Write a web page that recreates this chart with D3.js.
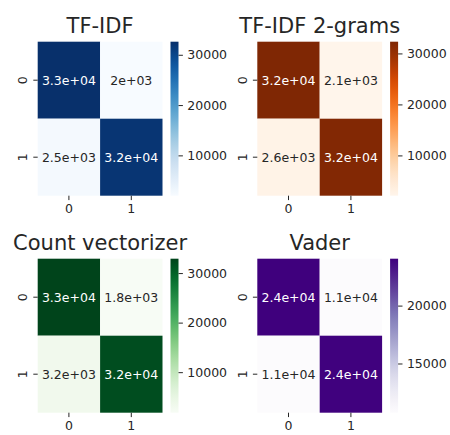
<!DOCTYPE html>
<html>
<head>
<meta charset="utf-8">
<script src="https://cdn.jsdelivr.net/npm/d3@7"></script>
<style>
  body { margin: 0; background: #fff; }
  text { font-family: "DejaVu Sans", sans-serif; }
</style>
</head>
<body>
<div id="chart-area"></div>
<script>
const panelTitles = ["TF-IDF", "TF-IDF 2-grams", "Count vectorizer", "Vader"];
const classLabels = ["0", "1"];
const tfidfValues = [[32600, 1980], [2460, 32000]];
const tfidf2Values = [[32300, 2100], [2600, 32000]];
const countValues = [[32900, 1820], [3200, 32000]];
const vaderValues = [[24050, 10800], [10750, 24000]];
const colorbarTicks = [
  [10000, 20000, 30000],
  [10000, 20000, 30000],
  [10000, 20000, 30000],
  [15000, 20000]
];

(function () {
  const width = 450, height = 435;
  const svg = d3.select("#chart-area").append("svg")
    .attr("width", width).attr("height", height);

  const panels = [
    { title: panelTitles[0], values: tfidfValues, cmap: d3.interpolateBlues, x: 37.7, y: 41.7 },
    { title: panelTitles[1], values: tfidf2Values, cmap: d3.interpolateOranges, x: 257.3, y: 41.7 },
    { title: panelTitles[2], values: countValues, cmap: d3.interpolateGreens, x: 37.7, y: 258.7 },
    { title: panelTitles[3], values: vaderValues, cmap: d3.interpolatePurples, x: 257.3, y: 258.7 }
  ];
  const hw = 124.8, hh = 154;      // heatmap size
  const cbGap = 8, cbW = 8;         // colorbar offset / width
  const textColor = "#262626";

  // python-like ".2g" formatting for big numbers
  const fmt = (v) => d3.format(".1~e")(v).replace(/e([+-])(\d)$/, "e$10$2");

  panels.forEach((p, i) => {
    const g = svg.append("g").attr("transform", `translate(${p.x},${p.y})`);
    const flat = p.values.flat();
    const vmin = d3.min(flat), vmax = d3.max(flat);
    const color = d3.scaleSequential(p.cmap).domain([vmin, vmax]);

    const xScale = d3.scaleBand().domain(classLabels).range([0, hw]);
    const yScale = d3.scaleBand().domain(classLabels).range([0, hh]);

    const cells = [];
    p.values.forEach((row, r) => row.forEach((v, c) => cells.push({ r, c, v })));

    g.selectAll("rect.cell").data(cells).enter().append("rect")
      .attr("class", "cell")
      .attr("x", d => xScale(classLabels[d.c]))
      .attr("y", d => yScale(classLabels[d.r]))
      .attr("width", xScale.bandwidth())
      .attr("height", yScale.bandwidth())
      .attr("fill", d => color(d.v));

    g.selectAll("text.annot").data(cells).enter().append("text")
      .attr("class", "annot")
      .attr("x", d => xScale(classLabels[d.c]) + xScale.bandwidth() / 2)
      .attr("y", d => yScale(classLabels[d.r]) + yScale.bandwidth() / 2)
      .attr("text-anchor", "middle")
      .attr("dy", "0.36em")
      .attr("font-size", 12.5)
      .attr("fill", d => (d.v - vmin) / (vmax - vmin) > 0.5 ? "#ffffff" : textColor)
      .text(d => fmt(d.v));

    // x axis
    const xAxis = g.append("g").attr("transform", `translate(0,${hh})`)
      .call(d3.axisBottom(xScale).tickSize(4.4).tickPadding(4.4));
    xAxis.select(".domain").remove();
    xAxis.selectAll("line").attr("stroke", textColor).attr("stroke-width", 1);
    xAxis.selectAll("text").attr("font-size", 12.5).attr("fill", textColor)
      .attr("font-family", "DejaVu Sans");

    // y axis with rotated labels
    const yAxis = g.append("g").call(d3.axisLeft(yScale).tickSize(4.4).tickPadding(4.4));
    yAxis.select(".domain").remove();
    yAxis.selectAll("line").attr("stroke", textColor).attr("stroke-width", 1);
    yAxis.selectAll("text")
      .attr("font-size", 12.5).attr("fill", textColor)
      .attr("font-family", "DejaVu Sans")
      .attr("x", null).attr("dy", null)
      .attr("text-anchor", "middle")
      .attr("transform", "translate(-15,0) rotate(-90)")
      .attr("y", 0)
      .attr("dy", "0.36em");

    // title
    g.append("text")
      .attr("x", hw / 2).attr("y", -8.5)
      .attr("text-anchor", "middle")
      .attr("font-size", 21)
      .attr("fill", textColor)
      .text(p.title);

    // colorbar
    const gradId = "grad" + i;
    const grad = svg.append("defs").append("linearGradient")
      .attr("id", gradId).attr("x1", 0).attr("y1", 1).attr("x2", 0).attr("y2", 0);
    d3.range(0, 1.0001, 0.05).forEach(t => {
      grad.append("stop").attr("offset", t).attr("stop-color", p.cmap(t));
    });
    const cb = g.append("g").attr("transform", `translate(${hw + cbGap},0)`);
    cb.append("rect").attr("width", cbW).attr("height", hh).attr("fill", `url(#${gradId})`);
    const cbScale = d3.scaleLinear().domain([vmin, vmax]).range([hh, 0]);
    const cbAxis = cb.append("g").attr("transform", `translate(${cbW},0)`)
      .call(d3.axisRight(cbScale).tickValues(colorbarTicks[i]).tickFormat(d3.format("d"))
        .tickSize(4.4).tickPadding(4.4));
    cbAxis.select(".domain").remove();
    cbAxis.selectAll("line").attr("stroke", textColor).attr("stroke-width", 1);
    cbAxis.selectAll("text").attr("font-size", 12.5).attr("fill", textColor)
      .attr("font-family", "DejaVu Sans");
  });
})();
</script>
</body>
</html>
